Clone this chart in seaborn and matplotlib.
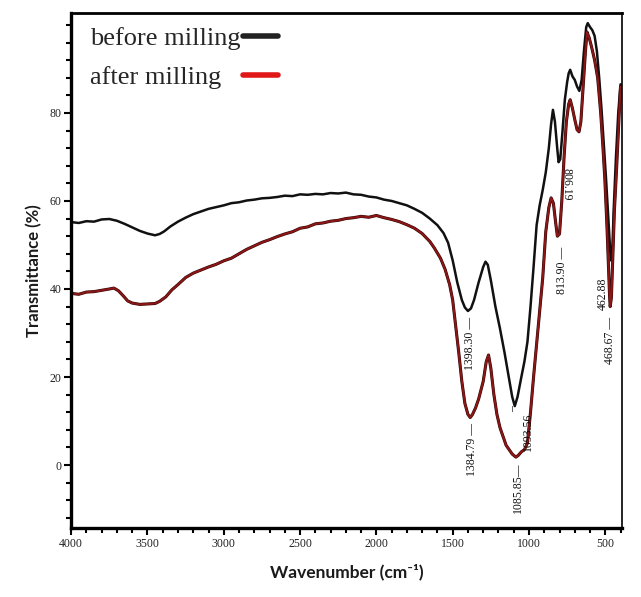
import numpy as np
import pandas as pd
import matplotlib
matplotlib.use("Agg")
import matplotlib.pyplot as plt
import matplotlib.patheffects as pe
from matplotlib.lines import Line2D
from matplotlib.ticker import MultipleLocator
import seaborn as sns

# FTIR spectra (wavenumber in cm-1, transmittance in %)
before_wn = [4000, 3950, 3900, 3850, 3800, 3750, 3700, 3650, 3600, 3550, 3500, 3450, 3420, 3390,
             3350, 3300, 3250, 3200, 3150, 3100, 3050, 3000, 2950, 2900, 2850, 2800, 2750, 2700,
             2650, 2600, 2550, 2500, 2450, 2400, 2350, 2300, 2250, 2200, 2150, 2100, 2050, 2000,
             1950, 1900, 1850, 1800, 1750, 1700, 1650, 1600, 1560, 1530, 1500, 1470, 1440, 1420,
             1400, 1380, 1360, 1330, 1300, 1285, 1270, 1250, 1220, 1190, 1160, 1130, 1110, 1093,
             1075, 1050, 1030, 1010, 990, 970, 950, 930, 910, 890, 870, 855, 843, 830, 815, 806,
             795, 780, 765, 750, 740, 730, 715, 700, 685, 670, 655, 640, 625, 615, 600, 585, 570,
             555, 540, 525, 510, 495, 480, 470, 463, 455, 445, 430, 415, 400]
before_t = [55.2, 55.0, 55.4, 55.3, 55.8, 55.9, 55.5, 54.8, 54.0, 53.2, 52.6, 52.2, 52.5, 53.1,
            54.2, 55.3, 56.2, 57.0, 57.6, 58.2, 58.6, 59.0, 59.5, 59.7, 60.1, 60.3, 60.6, 60.7,
            60.9, 61.2, 61.1, 61.5, 61.4, 61.6, 61.5, 61.8, 61.7, 61.9, 61.5, 61.4, 61.0, 60.8,
            60.3, 60.0, 59.5, 59.0, 58.2, 57.3, 56.0, 54.5, 52.7, 50.5, 46.5, 41.5, 37.5, 35.8,
            35.0, 35.6, 37.5, 41.5, 45.0, 46.2, 45.5, 42.0, 36.0, 31.0, 25.5, 19.5, 15.5, 13.4,
            15.5, 20.0, 23.5, 28.0, 36.0, 45.0, 54.5, 59.0, 62.5, 66.5, 72.0, 77.5, 80.7, 78.0,
            72.0, 68.8, 69.5, 76.0, 83.0, 87.0, 89.0, 89.8, 88.3, 87.5, 86.0, 85.0, 87.5, 94.0,
            99.5, 100.4, 99.5, 98.8, 97.5, 94.0, 88.0, 81.0, 73.0, 65.0, 56.0, 50.0, 46.5, 47.5,
            58.0, 70.0, 80.0, 86.5]

after_wn = [4000, 3950, 3900, 3850, 3800, 3750, 3720, 3690, 3660, 3630, 3600, 3550, 3500, 3450,
            3420, 3380, 3340, 3300, 3250, 3200, 3150, 3100, 3050, 3000, 2950, 2900, 2850, 2800,
            2750, 2700, 2650, 2600, 2550, 2500, 2450, 2400, 2350, 2300, 2250, 2200, 2150, 2100,
            2050, 2000, 1950, 1900, 1850, 1800, 1750, 1700, 1650, 1620, 1580, 1550, 1520, 1500,
            1480, 1460, 1440, 1420, 1400, 1385, 1370, 1350, 1330, 1300, 1280, 1265, 1250, 1230,
            1210, 1190, 1170, 1150, 1130, 1110, 1086, 1070, 1050, 1030, 1010, 990, 970, 950, 930,
            910, 890, 870, 855, 840, 825, 814, 800, 785, 770, 755, 740, 730, 715, 700, 685, 672,
            660, 645, 630, 620, 605, 590, 570, 550, 530, 515, 503, 490, 480, 472, 468, 460, 450,
            440, 425, 410, 400]
after_t = [39.0, 38.8, 39.3, 39.4, 39.7, 40.0, 40.2, 39.6, 38.5, 37.3, 36.8, 36.5, 36.6, 36.7,
           37.2, 38.2, 39.8, 41.0, 42.6, 43.6, 44.3, 45.0, 45.6, 46.4, 47.0, 48.0, 49.0, 49.8,
           50.6, 51.2, 51.9, 52.5, 53.0, 53.8, 54.1, 54.8, 55.0, 55.4, 55.6, 56.0, 56.2, 56.5,
           56.3, 56.7, 56.2, 55.8, 55.3, 54.6, 53.8, 52.6, 50.8, 49.3, 47.0, 44.5, 41.0, 37.5,
           31.5, 25.5, 19.0, 14.0, 11.5, 10.8, 11.5, 13.0, 15.0, 19.0, 23.5, 25.0, 22.0, 16.0,
           11.5, 8.5, 6.5, 4.5, 3.5, 2.5, 1.8, 2.2, 3.0, 3.5, 5.0, 12.0, 20.0, 27.5, 35.0,
           42.5, 53.0, 58.5, 60.7, 59.5, 55.0, 52.0, 52.5, 60.0, 70.0, 78.0, 82.0, 83.0, 81.0,
           78.5, 76.2, 75.7, 78.0, 86.0, 94.0, 98.4, 97.0, 95.0, 92.0, 88.0, 80.0, 72.0, 65.0,
           55.0, 46.0, 38.5, 36.0, 38.0, 48.0, 58.0, 68.0, 79.0, 86.0]

# peak labels
ann_text = ["1398.30 \u2014", "1384.79 \u2014", "1085.85\u2014", "1093.56", "\u2013",
            "813.90 \u2014", "806.19", "462.88", "468.67 \u2014"]
ann_x = [1386, 1373, 1072, 1008, 1102, 784, 752, 516, 470]
ann_y = [33.6, 9.6, 0.6, 12.0, 13.4, 49.6, 67.5, 42.5, 33.6]
ann_rot = [90, 90, 90, 90, 90, 90, 270, 90, 90]

df_before = pd.DataFrame({"wn": before_wn, "t": before_t})
df_after = pd.DataFrame({"wn": after_wn, "t": after_t})

sns.set_style("ticks")
serif = ["Liberation Serif", "DejaVu Serif"]
sans = ["Lato", "DejaVu Sans"]

fig = plt.figure(figsize=(6.41, 5.97), dpi=100)
ax = fig.add_axes([0.111, 0.1156, 0.859, 0.8626])

sns.lineplot(data=df_before, x="wn", y="t", sort=False, color="#111111", lw=1.8, ax=ax)
sns.lineplot(data=df_after, x="wn", y="t", sort=False, color="#8c1515", lw=1.5, ax=ax,
             path_effects=[pe.Stroke(linewidth=2.2, foreground="#2a0808"), pe.Normal()])

ax.set_xlim(4000, 392)
ax.set_ylim(-14.3, 102.7)
ax.set_xticks([4000, 3500, 3000, 2500, 2000, 1500, 1000, 500])
ax.xaxis.set_minor_locator(MultipleLocator(100))
ax.set_yticks([0, 20, 40, 60, 80])
ax.yaxis.set_minor_locator(MultipleLocator(4))

ax.tick_params(which="major", direction="out", length=5, width=1.5, color="black",
               labelsize=8.5, labelcolor="#222222", pad=2)
ax.tick_params(which="minor", direction="out", length=3.5, width=1.5, color="black")
for lab in ax.get_xticklabels() + ax.get_yticklabels():
    lab.set_family(serif)

for side, w in [("left", 2.4), ("bottom", 2.4), ("top", 2.0), ("right", 1.2)]:
    ax.spines[side].set_visible(True)
    ax.spines[side].set_linewidth(w)
    ax.spines[side].set_color("black")

ax.set_xlabel("Wavenumber (cm\u207b\u00b9)", family=sans, fontweight="bold",
              fontsize=12.5, color="#1a1a1a", labelpad=10)
ax.set_ylabel("Transmittance (%)", family=sans, fontweight="bold",
              fontsize=12, color="#1a1a1a", labelpad=5)

for txt, x, y, r in zip(ann_text, ann_x, ann_y, ann_rot):
    ax.text(x, y, txt, rotation=r, ha="center", va="top", family=serif,
            fontsize=8.5, color="#111111")

handles = [Line2D([], [], color="#222222", lw=4, solid_capstyle="round"),
           Line2D([], [], color="#e01818", lw=4, solid_capstyle="round")]
leg = ax.legend(handles, ["before milling", "after milling   "], loc="upper left",
                bbox_to_anchor=(0.0, 1.01), frameon=False, markerfirst=False,
                prop={"family": serif, "size": 19}, handlelength=1.3,
                handletextpad=0.1, labelspacing=0.6, borderaxespad=0.3)

fig.savefig("out.png", dpi=100)
